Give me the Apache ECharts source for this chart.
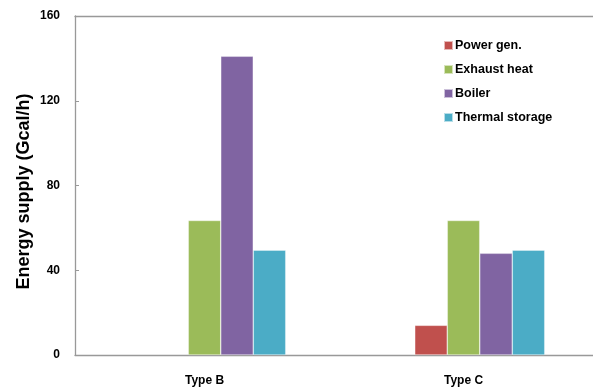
<!DOCTYPE html>
<html>
<head>
<meta charset="utf-8">
<script src="https://cdn.jsdelivr.net/npm/echarts@6/dist/echarts.min.js"></script>
<style>
  html, body { margin: 0; padding: 0; background: #fff; }
  #chart { width: 593px; height: 389px; }
</style>
</head>
<body>
<div id="chart"></div>
<script>
// Energy supply by source for each plant type (Gcal/h)
const categories = ['Type B', 'Type C'];
const seriesNames = ['Power gen.', 'Exhaust heat', 'Boiler', 'Thermal storage'];
const powerGen = [0, 14];
const exhaustHeat = [63.5, 63.5];
const boiler = [141, 48];
const thermalStorage = [49.5, 49.5];
const yTicks = [0, 40, 80, 120, 160];

const colors = ['#C0504D', '#9BBB59', '#8064A2', '#4BACC6'];
const values = [powerGen, exhaustHeat, boiler, thermalStorage];

const font = '"Liberation Sans", Arial, sans-serif';

// An empty leading slot keeps the bar group offset to the right of each category centre
const series = [{
  name: 'slot',
  type: 'bar',
  data: categories.map(() => null),
  barWidth: 32.5,
  barGap: '0%'
}].concat(seriesNames.map((n, i) => ({
  name: n,
  type: 'bar',
  data: values[i].map(v => (v === 0 ? null : v)),
  barWidth: 32.5,
  barGap: '0%',
  itemStyle: { color: colors[i], borderColor: 'rgba(255,255,255,0.6)', borderWidth: 0.6 }
})));

const chart = echarts.init(document.getElementById('chart'), null, { renderer: 'canvas' });
chart.setOption({
  animation: false,
  backgroundColor: '#ffffff',
  grid: { left: 75, right: 0, top: 16, bottom: 34, outerBoundsMode: 'none' },
  legend: {
    data: seriesNames,
    orient: 'vertical',
    left: 438,
    top: 34,
    itemWidth: 9,
    itemHeight: 9,
    itemGap: 11,
    icon: 'rect',
    textStyle: { fontFamily: font, fontWeight: 'bold', fontSize: 12.5, color: '#000', padding: [0, 0, 0, -3] }
  },
  xAxis: [{
    type: 'category',
    data: categories,
    axisLine: { lineStyle: { color: '#999', width: 1.3 } },
    axisTick: { show: false },
    axisLabel: { fontFamily: font, fontWeight: 'bold', fontSize: 12, color: '#000', margin: 20 }
  }, {
    type: 'category',
    position: 'top',
    data: categories,
    axisLine: { lineStyle: { color: '#999', width: 1.3 } },
    axisTick: { show: false },
    axisLabel: { show: false }
  }],
  yAxis: {
    type: 'value',
    min: yTicks[0],
    max: yTicks[yTicks.length - 1],
    interval: yTicks[1] - yTicks[0],
    name: 'Energy supply (Gcal/h)',
    nameLocation: 'middle',
    nameGap: 42,
    nameMoveOverlap: false,
    nameTextStyle: { fontFamily: font, fontWeight: 'bold', fontSize: 18, color: '#000', padding: [0, 12, 0, 0] },
    axisLine: { show: true, lineStyle: { color: '#999', width: 1.3 } },
    axisTick: { show: true, inside: true, length: 4, lineStyle: { color: '#999' } },
    axisLabel: { fontFamily: font, fontWeight: 'bold', fontSize: 12, color: '#000', margin: 15 },
    splitLine: { show: false }
  },
  series: series
});
</script>
</body>
</html>
